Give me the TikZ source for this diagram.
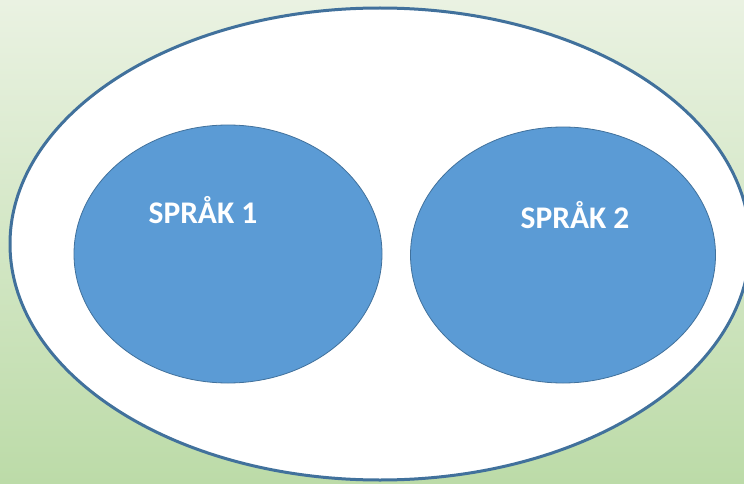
\documentclass[tikz,border=0pt]{standalone}
\usepackage{fontspec}
\setmainfont{Carlito}
\definecolor{bgtop}{HTML}{EAF2E2}
\definecolor{bgbot}{HTML}{BCDBA8}
\definecolor{edgeblue}{HTML}{41719C}
\definecolor{fillblue}{HTML}{5B9BD5}
\tikzset{
  outer/.style={draw=edgeblue, line width=3pt, fill=white},
  lang/.style={draw=edgeblue, line width=0.8pt, fill=fillblue},
  lbl/.style={text=white, font=\bfseries\fontsize{31.5}{36}\selectfont, inner sep=0pt, anchor=base}
}
\begin{document}
\begin{tikzpicture}[x=1pt,y=1pt]
\clip (0,0) rectangle (744,483);
\useasboundingbox (0,0) rectangle (744,483);
\shade[top color=bgtop, bottom color=bgbot] (0,0) rectangle (744,483);
\draw[outer] (380,239) ellipse [x radius=370, y radius=236];
\draw[lang] (228,229) ellipse [x radius=154, y radius=129];
\draw[lang] (563,228) ellipse [x radius=152.5, y radius=128];
\node[lbl] (l1) at (203,260) {SPRÅK 1};
\node[lbl] (l2) at (575,255) {SPRÅK 2};
\end{tikzpicture}
\end{document}
